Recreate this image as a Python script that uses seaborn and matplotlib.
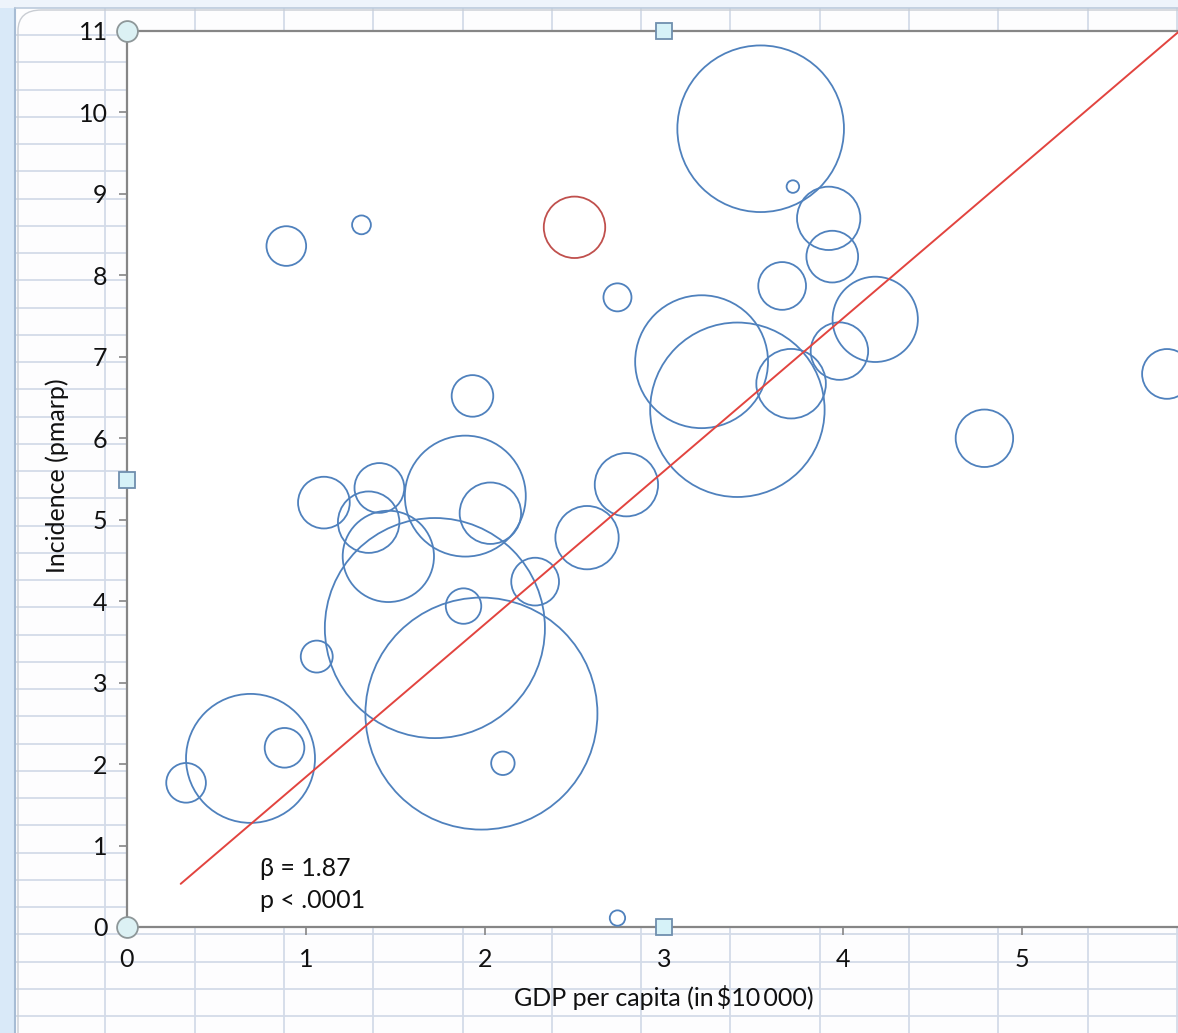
import numpy as np
import pandas as pd
import matplotlib
matplotlib.use("Agg")
import matplotlib.pyplot as plt
from matplotlib.lines import Line2D
from matplotlib.patches import Rectangle, FancyBboxPatch
import seaborn as sns

# ---------------- data ----------------
gdp = [0.33, 0.69, 0.88, 1.06, 1.72, 1.98, 2.10, 1.88, 2.28, 2.57,
       2.79, 1.89, 2.03, 1.46, 1.35, 1.41, 1.10, 1.93, 0.89, 1.31,
       2.50, 2.74, 3.54, 3.72, 3.92, 3.94, 3.66, 4.18, 3.98, 3.21,
       3.41, 3.71, 5.81, 4.79, 2.74]
incidence = [1.77, 2.07, 2.20, 3.32, 3.67, 2.62, 2.01, 3.94, 4.24, 4.78,
             5.43, 5.29, 5.08, 4.55, 4.97, 5.39, 5.21, 6.52, 8.36, 8.62,
             8.59, 7.73, 9.80, 9.09, 8.70, 8.23, 7.87, 7.46, 7.07, 6.94,
             6.35, 6.67, 6.79, 6.00, 0.11]
bubble_size = [4.0, 42.3, 4.0, 2.6, 123.2, 136.9, 1.4, 3.2, 5.8, 10.2,
               10.2, 37.2, 9.6, 21.2, 9.6, 6.3, 6.8, 4.4, 4.0, 0.9,
               9.6, 2.0, 70.6, 0.4, 10.2, 6.8, 5.8, 18.5, 8.4, 44.9,
               77.4, 12.3, 6.3, 8.4, 0.6]
group = ["other"] * 20 + ["highlight"] + ["other"] * 14

trend_x = [0.30, 5.88]
trend_y = [0.53, 11.0]

x_ticks = [0, 1, 2, 3, 4, 5]
y_ticks = list(range(0, 12))
x_title = "GDP per capita (in\u2009$10\u2009000)"
y_title = "Incidence (pmarp)"
note_lines = ["\u03b2 = 1.87", "p < .0001"]

df = pd.DataFrame({"gdp": gdp, "inc": incidence, "size": bubble_size, "group": group})

# ---------------- styling ----------------
sns.set_style("white")
plt.rcParams["font.family"] = ["Lato", "DejaVu Sans"]
FS = 18
TXT = "#111111"

W, H, DPI = 1178, 1033, 100
fig = plt.figure(figsize=(W / DPI, H / DPI), dpi=DPI)
fig.patch.set_facecolor("#fdfdfe")

def fx(px):
    return px / W

def fy(py):
    return 1 - py / H

# spreadsheet background
grid_c = "#d3dbe8"
x0 = 16.0
xs = [x0 + 89.3 * k for k in range(1, 15)]
for gx in xs:
    fig.add_artist(Line2D([fx(gx), fx(gx)], [0, fy(8)], color=grid_c, lw=1.3, zorder=-3))
ys = [35.0 + 27.25 * k for k in range(0, 40)]
for gy in ys:
    if gy < H:
        fig.add_artist(Line2D([fx(x0), 1], [fy(gy), fy(gy)], color=grid_c, lw=1.3, zorder=-3))
fig.add_artist(Rectangle((0, 0), fx(14), 1, transform=fig.transFigure,
                         facecolor="#d9e9f8", edgecolor="none", zorder=-2))
fig.add_artist(Rectangle((0, fy(8)), 1, 1 - fy(8), transform=fig.transFigure,
                         facecolor="#eef4fb", edgecolor="none", zorder=-2))
fig.add_artist(Line2D([fx(15), fx(15)], [0, fy(8)], color="#a7bcd4", lw=1.5, zorder=-1.5))
fig.add_artist(Line2D([fx(15), 1], [fy(8), fy(8)], color="#bccbdc", lw=1.2, zorder=-1.5))
fig.add_artist(FancyBboxPatch((fx(18), fy(1060)), fx(1300), fy(10) - fy(1060),
                              boxstyle="round,pad=0,rounding_size=0.02",
                              transform=fig.transFigure, facecolor="none",
                              edgecolor="#c9cdd3", lw=1.0, zorder=-1))

# plot area
ax = fig.add_axes([fx(127), fy(927), fx(1178) - fx(127), fy(31) - fy(927)])
ax.set_facecolor("white")

sns.scatterplot(data=df, x="gdp", y="inc", size="size", hue="group",
                palette={"other": "#4f81bd", "highlight": "#c0504d"},
                sizes=(0, (1.44 * 116) ** 2), size_norm=(0, 136.9),
                legend=False, ax=ax, zorder=3)
coll = ax.collections[-1]
fc = coll.get_facecolors()
coll.set_edgecolors(fc)
coll.set_facecolors("none")
coll.set_linewidths(1.3)

sns.lineplot(x=trend_x, y=trend_y, color="#e2443f", lw=1.4, ax=ax, zorder=4)

ax.set_xlim(0, (1178 - 127) / 179.0)
ax.set_ylim(0, 11)
ax.set_xticks(x_ticks)
ax.set_yticks(y_ticks)
ax.set_xticklabels([str(t) for t in x_ticks])
ax.set_yticklabels([str(t) for t in y_ticks])
ax.tick_params(axis="both", which="major", direction="out", length=6, width=1.2,
               color="#868686", labelsize=FS, labelcolor=TXT, pad=8,
               bottom=True, left=True)
ax.tick_params(axis="x", pad=9)
for side in ["left", "bottom", "top"]:
    ax.spines[side].set_visible(True)
    ax.spines[side].set_color("#868686")
    ax.spines[side].set_linewidth(1.6)
ax.spines["right"].set_visible(False)

ax.set_xlabel("")
ax.set_ylabel("")
fig.text(fx(664), fy(998), x_title, ha="center", va="center", fontsize=FS, color=TXT)
fig.text(fx(57), fy(476), y_title, ha="center", va="center", rotation=90, fontsize=FS, color=TXT)

ax.text(0.1265, 0.0658, note_lines[0], transform=ax.transAxes, ha="left", va="center",
        fontsize=FS, color=TXT)
ax.text(0.1265, 0.030, note_lines[1], transform=ax.transAxes, ha="left", va="center",
        fontsize=FS, color=TXT)

# selection handles (Excel chart selection)
for (hx, hy) in [(0, 1), (0, 0)]:
    ax.plot([hx], [hy], marker="o", ms=15, mfc="#dcf1f4", mec="#8e9799", mew=1.3,
            transform=ax.transAxes, clip_on=False, zorder=10)
for (hx, hy) in [((664 - 127) / 1051, 1), (0, (927 - 480) / 896), ((664 - 127) / 1051, 0)]:
    ax.plot([hx], [hy], marker="s", ms=11, mfc="#d6f2f8", mec="#6f8fae", mew=1.3,
            transform=ax.transAxes, clip_on=False, zorder=10)

fig.savefig("out.png", dpi=DPI, facecolor=fig.get_facecolor())
